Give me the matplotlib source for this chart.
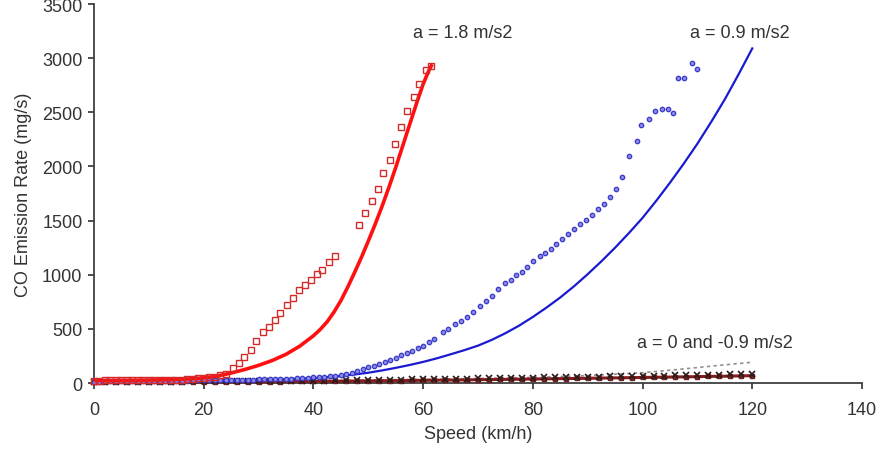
import matplotlib
matplotlib.use("Agg")
import matplotlib.pyplot as plt

# ---- data (speed in km/h, CO rate in mg/s) ----
# a = 1.8 m/s2, measured (open red squares)
red_speed = [0, 1, 2, 3, 4, 5, 6, 7, 8, 9, 10, 11, 12, 13, 14, 15, 16, 17, 18, 19,
             20, 21, 22, 23, 24, 25.3, 26.4, 27.4, 28.6, 29.6, 30.8, 31.9, 33.0, 33.9,
             35.1, 36.2, 37.4, 38.5, 39.5, 40.7, 41.6, 42.9, 43.9,
             48.4, 49.4, 50.6, 51.7, 52.7, 54.0, 54.9, 56.0, 57.1, 58.3, 59.3, 60.5, 61.4]
red_co = [18, 22, 25, 24, 27, 26, 28, 25, 27, 29, 26, 28, 30, 27, 29, 31, 28, 33, 38, 42,
          45, 52, 60, 72, 85, 136, 182, 237, 307, 387, 470, 519, 581, 646,
          719, 784, 858, 907, 953, 1005, 1045, 1113, 1174,
          1463, 1568, 1682, 1795, 1937, 2063, 2207, 2361, 2509, 2640, 2760, 2890, 2926]

# a = 1.8 m/s2, model (thick red line)
red_fit_speed = [0, 2.5, 5, 7.5, 10, 12.5, 15, 17.5, 20, 22.5, 25, 27.5, 30, 32.5, 35,
                 37.5, 40, 41.25, 42.5, 43.75, 45, 46.25, 47.5, 48.75, 50, 51.25, 52.5,
                 53.75, 55, 56.25, 57.5, 58.75, 60, 61, 61.5]
red_fit_co = [22, 23, 24, 25, 27, 30, 33, 39, 48, 65, 92, 125, 163, 208, 265,
              340, 436, 495, 565, 655, 760, 885, 1020, 1160, 1310, 1465, 1630,
              1805, 1990, 2185, 2380, 2575, 2760, 2880, 2930]

# a = 0.9 m/s2, measured (blue dots)
blue_speed = [0, 1, 2, 3, 4, 5, 6, 7, 8, 9, 10, 11, 12, 13, 14, 15, 16, 17, 18, 19,
              20, 21, 22, 23, 24, 25, 26, 27, 28, 29, 30, 31, 32, 33, 34, 35, 36, 37,
              38, 39, 40, 41, 42, 43, 44, 45, 46, 47, 48, 49, 50, 51, 52, 53, 54, 55,
              56, 57, 58, 59, 60, 61, 62, 63.6, 64.6, 65.8, 66.9, 68.0, 69.1, 70.3,
              71.4, 72.5, 73.7, 75.0, 76.0, 77.0, 78.0, 79.0, 80.1, 81.3, 82.3, 83.3,
              84.3, 85.4, 86.4, 87.5, 88.6, 89.7, 90.8, 91.9, 92.9, 94.0, 95.1, 96.2,
              97.5, 98.9, 99.8, 101.1, 102.3, 103.5, 104.7, 105.6, 106.5, 107.6,
              109.0, 109.9]
blue_co = [12, 14, 15, 15, 16, 17, 16, 18, 17, 19, 18, 20, 19, 21, 20, 22, 21, 23, 24, 24,
           25, 26, 26, 27, 28, 28, 29, 30, 31, 32, 33, 34, 35, 36, 38, 39, 41, 43,
           46, 48, 52, 55, 58, 62, 67, 74, 83, 95, 110, 128, 145, 160, 175, 191, 212, 235,
           255, 276, 298, 322, 346, 375, 410, 469, 500, 545, 576, 606, 652, 714,
           760, 806, 867, 928, 950, 996, 1027, 1076, 1128, 1174, 1200, 1236,
           1282, 1334, 1374, 1420, 1466, 1506, 1549, 1605, 1651, 1718, 1795, 1905,
           2096, 2235, 2380, 2435, 2512, 2533, 2527, 2496, 2819, 2813,
           2957, 2896]

# a = 0.9 m/s2, model (blue line)
blue_fit_speed = [0, 5, 10, 15, 20, 25, 30, 35, 40, 42.5, 45, 47.5, 50, 52.5, 55, 57.5,
                  60, 62.5, 65, 67.5, 70, 72.5, 75, 77.5, 80, 82.5, 85, 87.5, 90, 92.5,
                  95, 97.5, 100, 102.5, 105, 107.5, 110, 112.5, 115, 117.5, 120]
blue_fit_co = [12, 13, 14, 17, 20, 24, 28, 35, 45, 54, 65, 79, 95, 116, 140, 166,
               195, 228, 265, 303, 345, 398, 460, 530, 610, 697, 790, 893, 1005, 1124,
               1250, 1384, 1525, 1683, 1850, 2025, 2210, 2410, 2620, 2850, 3090]

# a = 0 and -0.9 m/s2 (bottom band)
low_speed = [0, 2, 4, 6, 8, 10, 12, 14, 16, 18, 20, 22, 24, 26, 28, 30, 32, 34, 36, 38,
             40, 42, 44, 46, 48, 50, 52, 54, 56, 58, 60, 62, 64, 66, 68, 70, 72, 74, 76,
             78, 80, 82, 84, 86, 88, 90, 92, 94, 96, 98, 100, 102, 104, 106, 108, 110,
             112, 114, 116, 118, 120]
zero_co = [8, 9, 10, 11, 11, 12, 13, 13, 14, 15, 15, 16, 17, 17, 18, 19, 19, 20, 21, 22,
           22, 23, 24, 25, 26, 27, 28, 30, 31, 33, 34, 35, 37, 39, 40, 42, 43, 45, 47,
           48, 50, 51, 53, 55, 56, 58, 59, 61, 62, 64, 66, 67, 69, 71, 72, 74, 76,
           78, 80, 82, 86]
neg_co = [5, 6, 6, 7, 7, 8, 8, 9, 9, 10, 10, 11, 11, 12, 12, 13, 13, 14, 15, 15,
          16, 17, 17, 18, 19, 20, 21, 22, 23, 24, 25, 26, 27, 28, 29, 31, 32, 33, 34,
          36, 37, 38, 40, 41, 42, 44, 45, 47, 48, 50, 51, 53, 54, 56, 57, 59, 61,
          62, 64, 66, 68]
zero_fit_speed = [0, 10, 20, 30, 40, 50, 60, 70, 80, 90, 100, 105, 110, 115, 120]
zero_fit_co = [5, 8, 12, 16, 21, 27, 34, 42, 52, 68, 95, 118, 143, 168, 192]

INK = '#404040'
TXT = '#333333'

plt.rcParams.update({
    'font.family': ['Liberation Sans', 'DejaVu Sans'],
    'font.size': 13,
})

fig = plt.figure(figsize=(8.89, 4.52), dpi=100)
ax = fig.add_axes([0.1057, 0.1504, 0.8639, 0.8385])

# bottom band first
ax.plot(zero_fit_speed, zero_fit_co, color='#909090', lw=1.2, ls=(0, (2, 2)), zorder=2)
ax.plot(low_speed, neg_co, color='#8b1a1a', lw=2.2, marker='s', ms=3.5,
        mfc='#6a2020', mec='#6a2020', zorder=3, clip_on=False)
ax.plot(low_speed, zero_co, ls='none', marker='x', ms=4.5, mew=1.2,
        color='#2a1a1a', zorder=3, clip_on=False)

# a = 0.9
ax.plot(blue_fit_speed, blue_fit_co, color='#1a1ad0', lw=1.6, zorder=4)
ax.plot(blue_speed, blue_co, ls='none', marker='o', ms=3.2, mew=0.9,
        mfc='#8a8ae6', mec='#3a3ac8', zorder=5, clip_on=False)

# a = 1.8
ax.plot(red_fit_speed, red_fit_co, color='#ff1010', lw=2.6, zorder=6)
ax.plot(red_speed, red_co, ls='none', marker='s', ms=4.2, mew=1.0,
        mfc='none', mec='#d42a2a', zorder=7, clip_on=False)

ax.text(58.2, 3240, 'a = 1.8 m/s2', color=TXT, va='center', ha='left')
ax.text(108.7, 3240, 'a = 0.9 m/s2', color=TXT, va='center', ha='left')
ax.text(99.0, 378, 'a = 0 and -0.9 m/s2', color=TXT, va='center', ha='left')

ax.set_xlim(0, 140)
ax.set_ylim(0, 3500)
ax.set_xticks(range(0, 141, 20))
ax.set_yticks(range(0, 3501, 500))

for s in ['top', 'right']:
    ax.spines[s].set_visible(False)
for s in ['left', 'bottom']:
    ax.spines[s].set_color(INK)
    ax.spines[s].set_linewidth(1.3)

ax.tick_params(axis='both', direction='out', length=4.3, width=1.3,
               color=INK, labelcolor=TXT)
ax.tick_params(axis='x', pad=9)
ax.tick_params(axis='y', pad=4)

ax.set_xlabel('Speed (km/h)', color=TXT, labelpad=5)
ax.set_ylabel('CO Emission Rate (mg/s)', color=TXT, labelpad=7)

fig.savefig('out.png', dpi=100, facecolor='white')
